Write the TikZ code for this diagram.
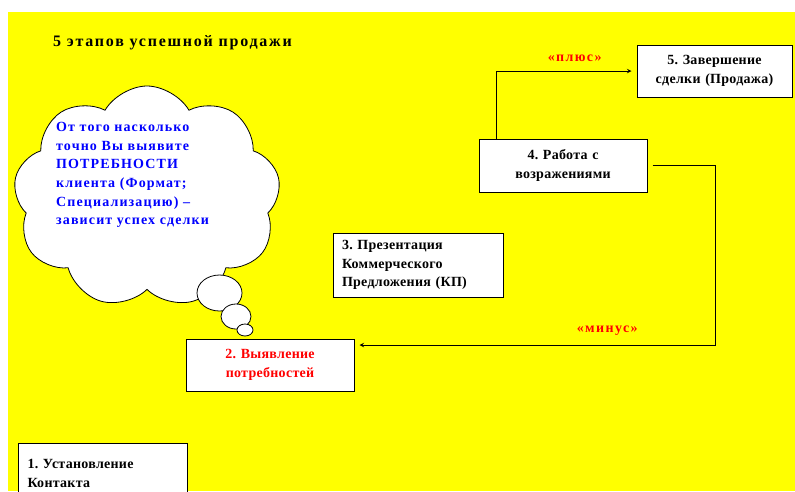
\documentclass[tikz,border=0pt]{standalone}
\usepackage{fontspec}
\setmainfont{Liberation Serif}
\usetikzlibrary{shapes.symbols, shapes.geometric}
\definecolor{slideyellow}{RGB}{255,255,0}
\definecolor{tipred}{RGB}{255,0,0}
\definecolor{thinkblue}{RGB}{0,0,255}
\frenchspacing

\begin{document}
\begin{tikzpicture}[
  x=1pt, y=-1pt,
  stage/.style={draw, fill=white, line width=1pt, inner ysep=0pt, inner xsep=4pt,
                minimum height=52pt,
                font=\fontsize{14}{18.5}\selectfont\bfseries\addfontfeatures{LetterSpace=2}},
  bubble/.style={ellipse, draw, fill=white, line width=0.8pt, inner sep=0pt},
  arr/.style={->, line width=1pt, >=stealth},
  lbl/.style={text=tipred, font=\fontsize{14}{16}\selectfont\bfseries\addfontfeatures{LetterSpace=10}},
]
  \useasboundingbox (0,0) rectangle (795,491);
  \fill[slideyellow] (8,12) rectangle (795,491);

  \node[anchor=west, inner sep=0pt,
        font=\fontsize{16}{19}\selectfont\bfseries\addfontfeatures{LetterSpace=11}] (title)
    at (53,43) {5 этапов успешной продажи};

  % thought cloud
  \node[cloud, draw, fill=white, line width=0.8pt, cloud puffs=9, cloud puff arc=120,
        cloud ignores aspect, minimum width=267pt, minimum height=222pt] (thought) at (147,197) {};
  \node[anchor=west, inner sep=0pt, align=left, text=thinkblue,
        font=\fontsize{14}{18.6}\selectfont\bfseries\addfontfeatures{LetterSpace=8}] (thoughttext)
    at (56,175)
    {От того насколько\\точно Вы выявите\\ПОТРЕБНОСТИ\\клиента (Формат;\\Специализацию) –\\зависит успех сделки};
  \node[bubble, minimum width=45pt, minimum height=36pt] (bub1) at (219.5,293) {};
  \node[bubble, minimum width=30pt, minimum height=25pt] (bub2) at (236,316.5) {};
  \node[bubble, minimum width=16pt, minimum height=12pt] (bub3) at (245,330) {};

  \node[stage, anchor=north west, inner xsep=9pt, text width=151pt, minimum height=60pt,
        align=left] (contact) at (18,443) {1. Установление\\Контакта};
  \node[stage, text width=160pt, align=center, text=tipred] (needs) at (270,365)
    {2. Выявление\\потребностей};
  \node[stage, inner xsep=9pt, text width=152pt, minimum height=64pt, align=left] (present)
    at (418,265) {3. Презентация\\Коммерческого\\Предложения (КП)};
  \node[stage, text width=160pt, minimum height=53pt, align=center] (objections) at (563,165.5)
    {4. Работа с\\возражениями};
  \node[stage, inner xsep=3pt, text width=149pt, align=center] (deal) at (714.5,71)
    {5. Завершение\\сделки (Продажа)};

  \draw[arr, shorten >=5pt] ([xshift=-67pt]objections.north) |- (deal.west)
    node[pos=0.78, above=6pt, lbl] {«плюс»};
  \draw[arr, shorten <=5pt, shorten >=5pt] (objections.east) -- ++(68,0)
    |- ([yshift=20pt]needs.east) node[pos=0.65, above=6pt, lbl] {«минус»};
\end{tikzpicture}
\end{document}
